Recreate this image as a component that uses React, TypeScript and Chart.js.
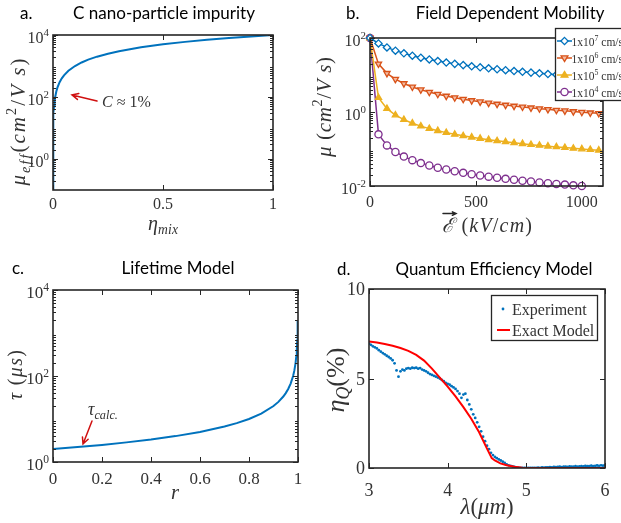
import React, { useEffect, useRef } from "react";
import { Chart, registerables } from "chart.js";
Chart.register(...registerables);

// ---------------- data ----------------
// (a) C nano-particle impurity
const etaMix = [0, 0.0002, 0.0005, 0.001, 0.002, 0.003, 0.005, 0.0075, 0.01, 0.015, 0.02, 0.03, 0.04, 0.05, 0.07, 0.1, 0.13, 0.16, 0.2, 0.25, 0.3, 0.4, 0.5, 0.6, 0.7, 0.8, 0.9, 1.0];
const muEff = [0.1, 2.1, 5.1, 10.1, 20.1, 30.1, 50.1, 75.1, 100, 150, 200, 300, 400, 500, 700, 1000, 1300, 1600, 2000, 2500, 3000, 4000, 5000, 6000, 7000, 8000, 9000, 10000];
const aXTicks = [0, 0.5, 1];
const aXLabels = ["0", "0.5", "1"];
const aYTicks = [1, 100, 10000];
const aYExp = ["0", "2", "4"];

// (b) Field dependent mobility
const fieldKV = [0, 40, 80, 120, 160, 200, 240, 280, 320, 360, 400, 440, 480, 520, 560, 600, 640, 680, 720, 760, 800, 840, 880, 920, 960, 1000, 1040, 1080];
const mu1e7 = [100, 71.4, 55.6, 45.5, 38.5, 33.3, 29.4, 26.3, 23.8, 21.7, 20.0, 18.5, 17.2, 16.1, 15.2, 14.3, 13.5, 12.8, 12.2, 11.6, 11.1, 10.6, 10.2, 9.8, 9.4, 9.1, 8.8, 8.5];
const mu1e6 = [100, 20, 11.1, 7.69, 5.88, 4.76, 4.0, 3.45, 3.03, 2.7, 2.44, 2.22, 2.04, 1.89, 1.75, 1.64, 1.54, 1.45, 1.37, 1.3, 1.23, 1.18, 1.12, 1.08, 1.03, 0.99, 0.95, 0.92];
const mu1e5 = [100, 2.44, 1.23, 0.826, 0.621, 0.498, 0.415, 0.356, 0.312, 0.277, 0.249, 0.227, 0.208, 0.192, 0.178, 0.166, 0.156, 0.147, 0.139, 0.131, 0.125, 0.119, 0.114, 0.109, 0.104, 0.1, 0.096, 0.0925];
const mu1e4 = [100, 0.249, 0.125, 0.0832, 0.0624, 0.05, 0.0416, 0.0357, 0.0312, 0.0278, 0.025, 0.0227, 0.0208, 0.0192, 0.0179, 0.0167, 0.0156, 0.0147, 0.0139, 0.0132, 0.0125, 0.0119, 0.0114, 0.0109, 0.0104, 0.01];
const bLegendExp = ["7", "6", "5", "4"];
const bXTicks = [0, 500, 1000];
const bXLabels = ["0", "500", "1000"];
const bYTicks = [0.01, 1, 100];
const bYExp = ["-2", "0", "2"];

// (c) Lifetime model
const rVals = [0, 0.1, 0.2, 0.3, 0.4, 0.5, 0.6, 0.7, 0.75, 0.8, 0.85, 0.9, 0.92, 0.94, 0.95, 0.96, 0.97, 0.98, 0.985, 0.99, 0.993, 0.995, 0.997, 0.998, 0.999];
const tauVals = [2, 2.22, 2.5, 2.86, 3.33, 4, 5, 6.67, 8, 10, 13.3, 20, 25, 33.3, 40, 50, 66.7, 100, 133, 200, 286, 400, 667, 1000, 2000];
const cXTicks = [0, 0.2, 0.4, 0.6, 0.8, 1];
const cXLabels = ["0", "0.2", "0.4", "0.6", "0.8", "1"];
const cYTicks = [1, 100, 10000];
const cYExp = ["0", "2", "4"];

// (d) Quantum efficiency model
const lambdaExp = [
  3.0, 3.025, 3.05, 3.075, 3.1, 3.125, 3.15, 3.175, 3.2, 3.225,
  3.25, 3.275, 3.3, 3.325, 3.35, 3.375, 3.4, 3.425, 3.45, 3.475,
  3.5, 3.525, 3.55, 3.575, 3.6, 3.625, 3.65, 3.675, 3.7, 3.725,
  3.75, 3.775, 3.8, 3.825, 3.85, 3.875, 3.9, 3.925, 3.95, 3.975,
  4.0, 4.025, 4.05, 4.075, 4.1, 4.125, 4.15, 4.175, 4.2, 4.225,
  4.25, 4.275, 4.3, 4.325, 4.35, 4.375, 4.4, 4.425, 4.45, 4.475,
  4.5, 4.525, 4.55, 4.575, 4.6, 4.625, 4.65, 4.675, 4.7, 4.725,
  4.75, 4.775, 4.8, 4.825, 4.85, 4.875, 4.9, 4.925, 4.95, 4.975,
  5.0, 5.025, 5.05, 5.075, 5.1, 5.125, 5.15, 5.175, 5.2, 5.225,
  5.25, 5.275, 5.3, 5.325, 5.35, 5.375, 5.4, 5.425, 5.45, 5.475,
  5.5, 5.525, 5.55, 5.575, 5.6, 5.625, 5.65, 5.675, 5.7, 5.725,
  5.75, 5.775, 5.8, 5.825, 5.85, 5.875, 5.9, 5.925, 5.95, 5.975,
  6.0,
];
const qeExp = [
  6.95, 6.88, 6.8, 6.74, 6.68, 6.58, 6.5, 6.42, 6.35, 6.27,
  6.2, 6.12, 6.02, 5.85, 5.45, 5.1, 5.4, 5.5, 5.45, 5.55,
  5.58, 5.55, 5.6, 5.58, 5.6, 5.55, 5.58, 5.5, 5.45, 5.4,
  5.32, 5.25, 5.2, 5.15, 5.1, 5.05, 5.0, 4.92, 4.85, 4.75,
  4.7, 4.65, 4.57, 4.5, 4.42, 4.3, 4.15, 3.92, 4.1, 4.15,
  3.8, 3.55, 3.28, 3.0, 2.8, 2.55, 2.3, 2.05, 1.75, 1.5,
  1.25, 1.05, 0.85, 0.72, 0.62, 0.55, 0.48, 0.42, 0.35, 0.28,
  0.2, 0.15, 0.12, 0.09, 0.06, 0.04, 0.02, 0.01, 0.0, 0.0,
  0.0, 0.0, 0.0, 0.0, 0.01, 0.0, 0.02, 0.01, 0.03, 0.02,
  0.04, 0.03, 0.05, 0.04, 0.06, 0.05, 0.06, 0.07, 0.05, 0.08,
  0.07, 0.06, 0.09, 0.08, 0.07, 0.1, 0.08, 0.09, 0.11, 0.09,
  0.12, 0.1, 0.11, 0.13, 0.11, 0.12, 0.14, 0.12, 0.15, 0.13,
  0.16,
];
const lambdaModel = [3.0, 3.1, 3.2, 3.3, 3.4, 3.5, 3.6, 3.7, 3.8, 3.9, 4.0, 4.1, 4.2, 4.3, 4.4, 4.5, 4.56, 4.6, 4.67, 4.75, 4.85, 4.95, 5.0, 5.5, 6.0];
const qeModel = [7.07, 7.01, 6.93, 6.83, 6.7, 6.54, 6.32, 6.0, 5.55, 5.05, 4.55, 4.0, 3.4, 2.75, 2.0, 1.08, 0.55, 0.42, 0.26, 0.15, 0.07, 0.02, 0.0, 0.0, 0.0];
const dXTicks = [3, 4, 5, 6];
const dXLabels = ["3", "4", "5", "6"];
const dYTicks = [0, 5, 10];
const dYLabels = ["0", "5", "10"];

// ---------------- styling helpers ----------------
const W = 621;
const H = 523;
const TXT = "#262626";
const LBL = "#333333";
const RED = "#D01010";
const BLUE = "#0072BD";
const SERIF = "'Liberation Serif', 'Times New Roman', serif";
const SANS = "Lato, 'Open Sans', sans-serif";

type Seg = { t: string; it?: boolean; sub?: boolean; sup?: boolean; fam?: string };

function fontOf(size: number, it?: boolean, fam?: string) {
  return `${it ? "italic " : ""}${size.toFixed(2)}px ${fam || SERIF}`;
}
function segSize(s: Seg, size: number) {
  return s.sub || s.sup ? size * 0.68 : size;
}
function segDy(s: Seg, size: number) {
  return s.sub ? size * 0.2 : s.sup ? -size * 0.42 : 0;
}
function charCount(segs: Seg[]) {
  return segs.reduce((n, s) => n + Array.from(s.t).length, 0);
}
function richWidth(ctx: CanvasRenderingContext2D, segs: Seg[], size: number, ls = 0) {
  let w = 0;
  for (const s of segs) {
    ctx.font = fontOf(segSize(s, size), s.it, s.fam);
    w += ctx.measureText(s.t).width;
  }
  return w + ls * Math.max(0, charCount(segs) - 1);
}
function drawRich(ctx: CanvasRenderingContext2D, segs: Seg[], x: number, y: number, size: number, align: string = "left", color: string = TXT, ls = 0) {
  const w = richWidth(ctx, segs, size, ls);
  let cx = align === "center" ? x - w / 2 : align === "right" ? x - w : x;
  const start = cx;
  ctx.fillStyle = color;
  ctx.textBaseline = "alphabetic";
  ctx.textAlign = "left";
  for (const s of segs) {
    ctx.font = fontOf(segSize(s, size), s.it, s.fam);
    if (ls === 0) {
      ctx.fillText(s.t, cx, y + segDy(s, size));
      cx += ctx.measureText(s.t).width;
    } else {
      for (const ch of Array.from(s.t)) {
        ctx.fillText(ch, cx, y + segDy(s, size));
        cx += ctx.measureText(ch).width + ls;
      }
    }
  }
  return start;
}
function fitSize(ctx: CanvasRenderingContext2D, segs: Seg[], target: number) {
  return (20 * target) / richWidth(ctx, segs, 20);
}
// keep a font size, spread letters to reach the target length
function spread(ctx: CanvasRenderingContext2D, segs: Seg[], size: number, target: number) {
  const w = richWidth(ctx, segs, size);
  const n = charCount(segs);
  if (w >= target || n < 2) return { size: (size * target) / w, ls: 0 };
  return { size, ls: (target - w) / (n - 1) };
}
function mathText(ctx: CanvasRenderingContext2D, segs: Seg[], cx: number, cy: number, size: number, target: number, rot: boolean) {
  const f = spread(ctx, segs, size, target);
  ctx.save();
  ctx.translate(cx, cy);
  if (rot) ctx.rotate(-Math.PI / 2);
  const st = drawRich(ctx, segs, 0, f.size * 0.3, f.size, "center", LBL, f.ls);
  ctx.restore();
  return { start: cx + st, size: f.size, ls: f.ls };
}
function arrow(ctx: CanvasRenderingContext2D, x1: number, y1: number, x2: number, y2: number, color: string, head = 7) {
  const ang = Math.atan2(y2 - y1, x2 - x1);
  ctx.save();
  ctx.strokeStyle = color;
  ctx.lineWidth = 1.5;
  ctx.lineCap = "round";
  ctx.beginPath();
  ctx.moveTo(x1, y1);
  ctx.lineTo(x2, y2);
  ctx.moveTo(x2 - head * Math.cos(ang - 0.45), y2 - head * Math.sin(ang - 0.45));
  ctx.lineTo(x2, y2);
  ctx.lineTo(x2 - head * Math.cos(ang + 0.45), y2 - head * Math.sin(ang + 0.45));
  ctx.stroke();
  ctx.restore();
}
function drawTitle(ctx: CanvasRenderingContext2D, letter: string, lx: number, title: string, cx: number, width: number, base: number) {
  const segs: Seg[] = [{ t: title, fam: SANS }];
  const size = fitSize(ctx, segs, width);
  drawRich(ctx, [{ t: letter, fam: SANS }], lx, base, size, "left", "#000");
  drawRich(ctx, segs, cx, base, size, "center", "#000");
}
function logMinor(e0: number, e1: number) {
  const out: number[] = [];
  for (let e = e0; e < e1; e++) for (let k = 2; k <= 9; k++) out.push(k * Math.pow(10, e));
  return out;
}
function drawMarker(ctx: CanvasRenderingContext2D, m: string, x: number, y: number, r: number, stroke: string, fill: string) {
  ctx.beginPath();
  if (m === "circle") ctx.arc(x, y, r, 0, Math.PI * 2);
  else if (m === "diamond") {
    ctx.moveTo(x, y - r); ctx.lineTo(x + r, y); ctx.lineTo(x, y + r); ctx.lineTo(x - r, y); ctx.closePath();
  } else if (m === "triUp") {
    ctx.moveTo(x, y - r); ctx.lineTo(x + r * 0.95, y + r * 0.6); ctx.lineTo(x - r * 0.95, y + r * 0.6); ctx.closePath();
  } else {
    ctx.moveTo(x, y + r); ctx.lineTo(x + r * 0.95, y - r * 0.6); ctx.lineTo(x - r * 0.95, y - r * 0.6); ctx.closePath();
  }
  ctx.fillStyle = fill; ctx.fill();
  ctx.strokeStyle = stroke; ctx.lineWidth = 1.3; ctx.stroke();
}

type Frame = {
  xTicks: number[]; xLabels: string[];
  yTicks: number[]; yLabels: Seg[][];
  yMinor?: number[]; size: number; xBase: number; yOff: number;
};
function drawFrame(chart: any, f: Frame) {
  const ctx: CanvasRenderingContext2D = chart.ctx;
  const a = chart.chartArea;
  const xs = chart.scales.x, ys = chart.scales.y;
  ctx.save();
  ctx.strokeStyle = TXT;
  ctx.lineWidth = 1;
  ctx.beginPath();
  const TL = 5, TM = 3;
  for (const v of f.xTicks) {
    const p = Math.round(xs.getPixelForValue(v)) + 0.5;
    ctx.moveTo(p, a.bottom); ctx.lineTo(p, a.bottom - TL);
    ctx.moveTo(p, a.top); ctx.lineTo(p, a.top + TL);
  }
  for (const v of f.yTicks) {
    const p = Math.round(ys.getPixelForValue(v)) + 0.5;
    ctx.moveTo(a.left, p); ctx.lineTo(a.left + TL, p);
    ctx.moveTo(a.right, p); ctx.lineTo(a.right - TL, p);
  }
  for (const v of f.yMinor || []) {
    const p = Math.round(ys.getPixelForValue(v)) + 0.5;
    ctx.moveTo(a.left, p); ctx.lineTo(a.left + TM, p);
    ctx.moveTo(a.right, p); ctx.lineTo(a.right - TM, p);
  }
  ctx.stroke();
  ctx.lineWidth = 1.6;
  ctx.strokeRect(a.left, a.top, a.right - a.left, a.bottom - a.top);
  f.xTicks.forEach((v, i) => {
    drawRich(ctx, [{ t: f.xLabels[i] }], xs.getPixelForValue(v), f.xBase, f.size, "center", LBL);
  });
  f.yTicks.forEach((v, i) => {
    drawRich(ctx, f.yLabels[i], a.left - 4, ys.getPixelForValue(v) + f.yOff, f.size, "right", LBL);
  });
  ctx.restore();
}

function pad(l: number, t: number, r: number, b: number) {
  return { left: l, top: t, right: W - r, bottom: H - b };
}
function pts(xs: number[], ys: number[]) {
  return ys.map((y, i) => ({ x: xs[i], y }));
}
const baseOpts = (padding: any, x: any, y: any) => ({
  responsive: false,
  animation: false,
  events: [],
  layout: { padding },
  plugins: { legend: { display: false }, tooltip: { enabled: false } },
  scales: { x: { display: false, ...x }, y: { display: false, ...y } },
});
const pow10 = (e: string): Seg[] => [{ t: "10" }, { t: e, sup: true }];

// ---------------- charts ----------------
function buildA(cv: HTMLCanvasElement) {
  return new Chart(cv, {
    type: "line",
    data: { datasets: [{ data: pts(etaMix, muEff), borderColor: BLUE, borderWidth: 2, pointRadius: 0, tension: 0 }] },
    options: baseOpts(pad(53, 35, 273, 190), { type: "linear", min: 0, max: 1 }, { type: "logarithmic", min: 0.1, max: 10000 }) as any,
    plugins: [{
      id: "decoA",
      afterDraw(chart: any) {
        const ctx = chart.ctx as CanvasRenderingContext2D;
        drawFrame(chart, { xTicks: aXTicks, xLabels: aXLabels, yTicks: aYTicks, yLabels: aYExp.map(pow10), yMinor: logMinor(-1, 4), size: 16, xBase: 208.5, yOff: 8 });
        drawTitle(ctx, "a.", 20, "C nano-particle impurity", 164, 182, 19);
        const yT: Seg[] = [{ t: "μ", it: true }, { t: "eff", it: true, sub: true }, { t: "(" }, { t: "cm", it: true }, { t: "2", sup: true }, { t: "/" }, { t: "V s", it: true }, { t: ")" }];
        mathText(ctx, yT, 19, 122, 21, 127, true);
        const xT: Seg[] = [{ t: "η", it: true }, { t: "mix", it: true, sub: true }];
        mathText(ctx, xT, 163, 224, 20, 30, false);
        drawRich(ctx, [{ t: "C", it: true }, { t: " ≈ 1%" }], 102, 107, 16, "left", LBL);
        arrow(ctx, 97, 101, 72, 95, RED);
      },
    }],
  } as any);
}

const bSeries = [
  { data: mu1e7, color: "#0072BD", style: "rectRot", rot: 0, fill: "#ffffff", m: "diamond" },
  { data: mu1e6, color: "#D95319", style: "triangle", rot: 180, fill: "#F3BBA3", m: "triDown" },
  { data: mu1e5, color: "#EDB120", style: "triangle", rot: 0, fill: "#EDB120", m: "triUp" },
  { data: mu1e4, color: "#7E2F8E", style: "circle", rot: 0, fill: "#ffffff", m: "circle" },
];

function buildB(cv: HTMLCanvasElement) {
  return new Chart(cv, {
    type: "line",
    data: {
      datasets: bSeries.map((s) => ({
        data: pts(fieldKV, s.data),
        borderColor: s.color, borderWidth: 1.5, tension: 0,
        pointStyle: s.style, pointRotation: s.rot, pointRadius: 3.6,
        pointBorderColor: s.color, pointBackgroundColor: s.fill, pointBorderWidth: 1.3,
        clip: false,
      })),
    },
    options: baseOpts(pad(370, 38, 603, 186), { type: "linear", min: 0, max: 1100 }, { type: "logarithmic", min: 0.01, max: 100 }) as any,
    plugins: [{
      id: "decoB",
      afterDraw(chart: any) {
        const ctx = chart.ctx as CanvasRenderingContext2D;
        drawFrame(chart, { xTicks: bXTicks, xLabels: bXLabels, yTicks: bYTicks, yLabels: bYExp.map(pow10), yMinor: logMinor(-2, 2), size: 16, xBase: 207, yOff: 8 });
        drawTitle(ctx, "b.", 346, "Field Dependent Mobility", 510, 189, 19);
        const yT: Seg[] = [{ t: "μ", it: true }, { t: " (" }, { t: "cm", it: true }, { t: "2", sup: true }, { t: "/" }, { t: "V s", it: true }, { t: ")" }];
        mathText(ctx, yT, 325, 107, 21, 100, true);
        const xT: Seg[] = [{ t: "ℰ", it: true }, { t: " (" }, { t: "kV", it: true }, { t: "/" }, { t: "cm", it: true }, { t: ")" }];
        const r = mathText(ctx, xT, 487, 226, 20, 90, false);
        ctx.font = fontOf(r.size, true);
        const ew = ctx.measureText("ℰ").width;
        const ay = 226 + r.size * 0.3 - r.size * 0.92;
        arrow(ctx, r.start + 1, ay, r.start + ew + 2, ay, TXT, 4);
        // legend
        ctx.save();
        ctx.fillStyle = "#fff";
        ctx.fillRect(555, 28, 80, 72);
        ctx.strokeStyle = TXT; ctx.lineWidth = 1.3;
        ctx.strokeRect(555.5, 28.5, 80, 72);
        bSeries.forEach((s, i) => {
          const y = 41 + i * 17;
          ctx.strokeStyle = s.color; ctx.lineWidth = 1.5;
          ctx.beginPath(); ctx.moveTo(557, y); ctx.lineTo(572, y); ctx.stroke();
          drawMarker(ctx, s.m, 564.5, y, 3.6, s.color, s.fill);
          drawRich(ctx, [{ t: "1x10" }, { t: bLegendExp[i], sup: true }, { t: " cm/s" }], 571.5, y + 4.5, 11.5, "left", LBL);
        });
        ctx.restore();
      },
    }],
  } as any);
}

function buildC(cv: HTMLCanvasElement) {
  return new Chart(cv, {
    type: "line",
    data: { datasets: [{ data: pts(rVals, tauVals), borderColor: BLUE, borderWidth: 2, pointRadius: 0, tension: 0 }] },
    options: baseOpts(pad(53, 290, 298, 462), { type: "linear", min: 0, max: 1 }, { type: "logarithmic", min: 1, max: 10000 }) as any,
    plugins: [{
      id: "decoC",
      afterDraw(chart: any) {
        const ctx = chart.ctx as CanvasRenderingContext2D;
        drawFrame(chart, { xTicks: cXTicks, xLabels: cXLabels, yTicks: cYTicks, yLabels: cYExp.map(pow10), yMinor: logMinor(0, 4), size: 17, xBase: 484, yOff: 8 });
        drawTitle(ctx, "c.", 12, "Lifetime Model", 178, 113, 274);
        const yT: Seg[] = [{ t: "τ", it: true }, { t: " (" }, { t: "μs", it: true }, { t: ")" }];
        mathText(ctx, yT, 16, 375, 20, 50, true);
        mathText(ctx, [{ t: "r", it: true }], 175, 493, 20, 8, false);
        drawRich(ctx, [{ t: "τ", it: true }, { t: "calc.", it: true, sub: true }], 88, 415, 18, "left", LBL);
        arrow(ctx, 92, 421, 83, 444, RED);
      },
    }],
  } as any);
}

function buildD(cv: HTMLCanvasElement) {
  return new Chart(cv, {
    type: "line",
    data: {
      datasets: [
        { data: pts(lambdaModel, qeModel), borderColor: "#FF0000", borderWidth: 2, pointRadius: 0, tension: 0 },
        { data: pts(lambdaExp, qeExp), showLine: false, pointRadius: 1.4, pointBorderWidth: 0, pointBackgroundColor: BLUE, borderColor: BLUE },
      ],
    },
    options: baseOpts(pad(369, 289, 605, 468), { type: "linear", min: 3, max: 6 }, { type: "linear", min: 0, max: 10 }) as any,
    plugins: [{
      id: "decoD",
      afterDraw(chart: any) {
        const ctx = chart.ctx as CanvasRenderingContext2D;
        drawFrame(chart, { xTicks: dXTicks, xLabels: dXLabels, yTicks: dYTicks, yLabels: dYLabels.map((t) => [{ t }]), size: 18, xBase: 496, yOff: 6 });
        drawTitle(ctx, "d.", 337, "Quantum Efficiency Model", 494, 197, 275);
        const yT: Seg[] = [{ t: "η", it: true }, { t: "Q", it: true, sub: true }, { t: "(%)" }];
        mathText(ctx, yT, 336, 380, 30, 65, true);
        const xT: Seg[] = [{ t: "λ", it: true }, { t: "(" }, { t: "μm", it: true }, { t: ")" }];
        mathText(ctx, xT, 487, 507, 30, 53, false);
        // legend
        ctx.save();
        ctx.fillStyle = "#fff";
        ctx.fillRect(491, 295, 106, 45);
        ctx.strokeStyle = TXT; ctx.lineWidth = 1.3;
        ctx.strokeRect(491.5, 295.5, 106, 45);
        ctx.fillStyle = BLUE;
        ctx.beginPath(); ctx.arc(503, 309, 1.4, 0, Math.PI * 2); ctx.fill();
        drawRich(ctx, [{ t: "Experiment" }], 512, 314.5, 16, "left", LBL);
        ctx.strokeStyle = "#FF0000"; ctx.lineWidth = 2;
        ctx.beginPath(); ctx.moveTo(497, 330); ctx.lineTo(510, 330); ctx.stroke();
        drawRich(ctx, [{ t: "Exact Model" }], 512, 335.5, 16, "left", LBL);
        ctx.restore();
      },
    }],
  } as any);
}

export default function App() {
  const r0 = useRef<HTMLCanvasElement>(null);
  const r1 = useRef<HTMLCanvasElement>(null);
  const r2 = useRef<HTMLCanvasElement>(null);
  const r3 = useRef<HTMLCanvasElement>(null);
  useEffect(() => {
    const charts = [buildA(r0.current!), buildB(r1.current!), buildC(r2.current!), buildD(r3.current!)];
    return () => charts.forEach((c) => c.destroy());
  }, []);
  const cs: React.CSSProperties = { position: "absolute", left: 0, top: 0, width: W, height: H };
  return (
    <div style={{ position: "fixed", left: 0, top: 0, width: W, height: H, background: "#fff", overflow: "hidden" }}>
      <canvas ref={r0} width={W} height={H} style={cs} />
      <canvas ref={r1} width={W} height={H} style={cs} />
      <canvas ref={r2} width={W} height={H} style={cs} />
      <canvas ref={r3} width={W} height={H} style={cs} />
    </div>
  );
}
